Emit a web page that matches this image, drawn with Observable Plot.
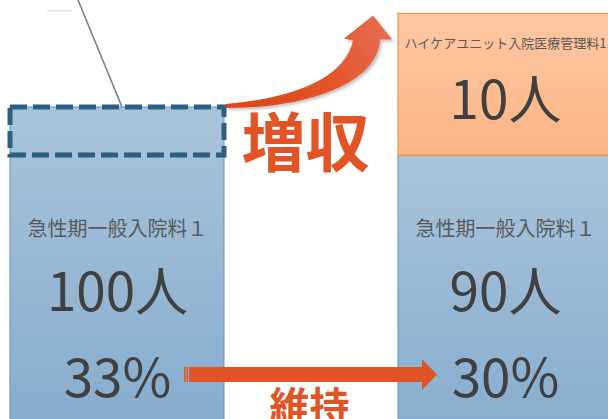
<!DOCTYPE html>
<html>
<head>
<meta charset="utf-8">
<script src="https://cdn.jsdelivr.net/npm/d3@7"></script>
<script src="https://cdn.jsdelivr.net/npm/@observablehq/plot@0.6"></script>
<style>
  html, body { margin: 0; padding: 0; background: #fff; overflow: hidden; }
  #chart { width: 608px; height: 419px; overflow: hidden; }
  #chart svg { display: block; overflow: hidden; }
</style>
</head>
<body>
<div id="chart"></div>
<script>
// ---- data ----
const periods = ["改定前", "改定後"];
const acuteLabels = ["急性期一般入院料１", "急性期一般入院料１"];
const acuteCounts = [100, 90];
const acuteShares = [33, 30];
const hcuPeriods = ["改定後"];
const hcuLabels = ["ハイケアユニット入院医療管理料1"];
const hcuCounts = [10];
const shiftedCounts = [10];
const callouts = ["増収", "維持"];

// ---- tables built from the arrays ----
const acute = periods.map((p, i) => ({period: p, label: acuteLabels[i], count: acuteCounts[i], share: acuteShares[i]}));
const hcu = hcuPeriods.map((p, i) => ({period: p, label: hcuLabels[i], count: hcuCounts[i], base: acuteCounts[periods.indexOf(p)]}));
const shifted = [{period: periods[0], top: acuteCounts[0], bottom: acuteCounts[0] - shiftedCounts[0]}];

const FONT = "Noto Sans CJK JP";
const hcuBoxStretch = 2.95; // visual exaggeration of the HCU box

const plot = Plot.plot({
  width: 608,
  height: 419,
  marginTop: 0, marginRight: 0, marginBottom: 0, marginLeft: 0,
  style: {fontFamily: FONT, background: "white"},
  x: {domain: periods, range: [10, 612], paddingInner: 174 / 388, paddingOuter: 0, axis: null},
  y: {domain: [0, 120], range: [587, 11], axis: null},
  marks: [
    Plot.barY(acute, {x: "period", y1: 0, y2: "count", fill: "url(#blueGrad)", stroke: "#5f91bf", strokeWidth: 1}),
    Plot.barY(hcu, {x: "period", y1: "base", y2: d => d.base + d.count * hcuBoxStretch, fill: "url(#orangeGrad)", stroke: "#f29b3b", strokeWidth: 1.2}),
    Plot.barY(shifted, {x: "period", y1: "bottom", y2: "top", fill: "none", stroke: "#2d5f80", strokeWidth: 5, strokeDasharray: "17,6"}),
    // acute labels
    Plot.text(acute, {x: "period", text: "label", frameAnchor: "top", lineAnchor: "bottom", dy: 235, fontSize: 20, fill: "#595959", fontFamily: FONT}),
    Plot.text(acute, {x: "period", text: d => d.count + "人", frameAnchor: "top", lineAnchor: "bottom", dy: 310, fontSize: 53, fill: "#404040", fontFamily: FONT}),
    Plot.text(acute, {x: "period", text: d => d.share + "%", frameAnchor: "top", lineAnchor: "bottom", dy: 396, fontSize: 53, fill: "#404040", fontFamily: FONT}),
    // HCU labels
    Plot.text(hcu, {x: "period", text: "label", frameAnchor: "top", lineAnchor: "bottom", dy: 47, fontSize: 13, fill: "#595959", fontFamily: FONT}),
    Plot.text(hcu, {x: "period", text: d => d.count + "人", frameAnchor: "top", lineAnchor: "bottom", dy: 118, fontSize: 53, fill: "#404040", fontFamily: FONT}),
    // callouts
    Plot.text([callouts[0]], {text: d => d, frameAnchor: "top-left", textAnchor: "middle", lineAnchor: "bottom", dx: 305, dy: 165, fontSize: 64, fontWeight: 700, fill: "#e05426", fontFamily: FONT}),
    Plot.text([callouts[1]], {text: d => d, frameAnchor: "top-left", textAnchor: "middle", lineAnchor: "bottom", dx: 309, dy: 420, fontSize: 40, fontWeight: 700, fill: "#e05426", fontFamily: FONT})
  ]
});

document.getElementById("chart").appendChild(plot);

// ---- decorations anchored to the plot's own scales ----
const svg = d3.select(plot);
const sx = plot.scale("x"), sy = plot.scale("y");
const bw = sx.bandwidth;
const lx0 = sx.apply(periods[0]);
const lx1 = lx0 + bw;
const rx0 = sx.apply(periods[1]);
const yTop = sy.apply(acuteCounts[0]);
const yHcuTop = sy.apply(hcu[0].base + hcu[0].count * hcuBoxStretch);

const defs = svg.insert("defs", ":first-child");
const blue = defs.append("linearGradient").attr("id", "blueGrad").attr("x1", 0).attr("y1", 0).attr("x2", 0).attr("y2", 1);
blue.append("stop").attr("offset", 0).attr("stop-color", "#a9c4da");
blue.append("stop").attr("offset", 1).attr("stop-color", "#74a0c8");
const orange = defs.append("linearGradient").attr("id", "orangeGrad").attr("x1", 0).attr("y1", 0).attr("x2", 0).attr("y2", 1);
orange.append("stop").attr("offset", 0).attr("stop-color", "#fec8a2");
orange.append("stop").attr("offset", 1).attr("stop-color", "#fcb486");
const arrowGrad = defs.append("linearGradient").attr("id", "arrowGrad").attr("gradientUnits", "userSpaceOnUse")
  .attr("x1", lx1).attr("y1", yTop).attr("x2", rx0 - 25).attr("y2", yHcuTop);
arrowGrad.append("stop").attr("offset", 0).attr("stop-color", "#dc4418");
arrowGrad.append("stop").attr("offset", 0.6).attr("stop-color", "#e2562a");
arrowGrad.append("stop").attr("offset", 1).attr("stop-color", "#e56a4d");
const shadow = defs.append("filter").attr("id", "shadow").attr("x", "-20%").attr("y", "-20%").attr("width", "140%").attr("height", "140%");
shadow.append("feDropShadow").attr("dx", 2).attr("dy", 2).attr("stdDeviation", 1.5).attr("flood-color", "#000").attr("flood-opacity", 0.25);

const deco = svg.append("g");

// faint line and grey callout leader
deco.append("line").attr("x1", lx0 + 37).attr("x2", lx0 + 62).attr("y1", 11).attr("y2", 11)
  .attr("stroke", "#e4e4e4").attr("stroke-width", 1.5);
deco.append("line").attr("x1", lx0 + 68).attr("y1", 0).attr("x2", lx0 + 112).attr("y2", yTop)
  .attr("stroke", "#7f7f7f").attr("stroke-width", 1.6);

// curved arrow (増収)
const p = (x, y) => `${x},${y}`;
const curved = [
  "M", p(lx1 + 2, yTop - 3),
  "C", p(lx1 + 71, yTop - 9), p(rx0 - 53, yHcuTop + 64), p(rx0 - 45, yHcuTop + 27),
  "L", p(rx0 - 54, yHcuTop + 25),
  "L", p(rx0 - 25, yHcuTop + 2),
  "L", p(rx0 - 6, yHcuTop + 26),
  "L", p(rx0 - 18, yHcuTop + 26),
  "C", p(rx0 - 20, yHcuTop + 69), p(lx1 + 86, yTop + 1), p(lx1 + 2, yTop + 1),
  "Z"
].join(" ");
deco.append("path").attr("d", curved).attr("fill", "url(#arrowGrad)").attr("filter", "url(#shadow)");

// straight striped arrow (維持)
const ay = 374.5, ah = 7.5;
const sx0 = lx1 - 40, shaftEnd = rx0 + 24, tipX = rx0 + 39;
deco.append("rect").attr("x", sx0).attr("y", ay - ah).attr("width", 1.5).attr("height", 2 * ah).attr("fill", "#e05527");
deco.append("rect").attr("x", sx0 + 2.5).attr("y", ay - ah).attr("width", 1.5).attr("height", 2 * ah).attr("fill", "#e05527");
deco.append("path")
  .attr("d", ["M", p(sx0 + 5, ay - ah), "L", p(shaftEnd, ay - ah), "L", p(shaftEnd, ay - 15.5), "L", p(tipX, ay),
              "L", p(shaftEnd, ay + 15.5), "L", p(shaftEnd, ay + ah), "L", p(sx0 + 5, ay + ah), "Z"].join(" "))
  .attr("fill", "#e05527");
</script>
</body>
</html>
